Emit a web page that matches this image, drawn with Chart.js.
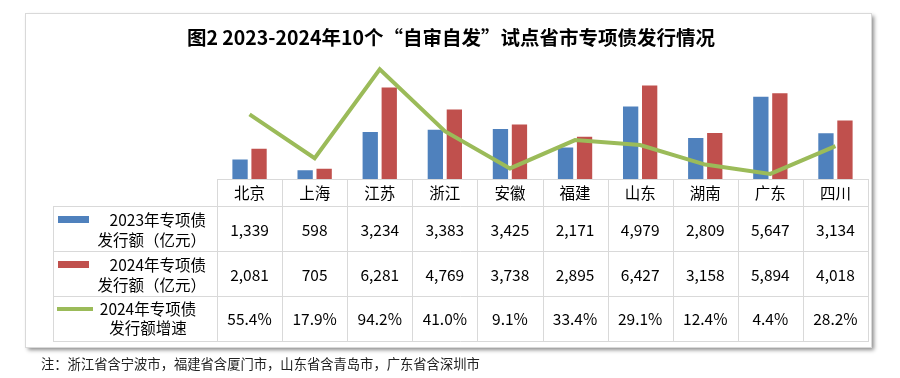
<!DOCTYPE html>
<html>
<head>
<meta charset="utf-8">
<script src="https://cdn.jsdelivr.net/npm/chart.js@4.4.0/dist/chart.umd.min.js"></script>
<style>
  html, body { margin: 0; padding: 0; background: #fff; }
  canvas { display: block; }
</style>
</head>
<body>
<canvas id="chart" width="900" height="378"></canvas>
<script>
const provinces = ["北京", "上海", "江苏", "浙江", "安徽", "福建", "山东", "湖南", "广东", "四川"];
const issue2023 = [1339, 598, 3234, 3383, 3425, 2171, 4979, 2809, 5647, 3134];
const issue2024 = [2081, 705, 6281, 4769, 3738, 2895, 6427, 3158, 5894, 4018];
const growth2024 = [55.4, 17.9, 94.2, 41.0, 9.1, 33.4, 29.1, 12.4, 4.4, 28.2];
const rowLabels = [
  ["2023年专项债", "发行额（亿元）"],
  ["2024年专项债", "发行额（亿元）"],
  ["2024年专项债", "发行额增速"],
];
const titleText = "图2 2023-2024年10个“自审自发”试点省市专项债发行情况";
const noteText = "注：浙江省含宁波市，福建省含厦门市，山东省含青岛市，广东省含深圳市";

const BLUE = "#4F81BD";
const RED = "#C0504D";
const GREEN = "#9BBB59";
const GRID = "#d9d9d9";
const FONT = '"Noto Sans CJK SC", "Noto Sans", sans-serif';

// frame, title, data table and note
const tablePlugin = {
  id: "tablePlugin",
  beforeDraw(chart) {
    const ctx = chart.ctx;
    ctx.save();
    ctx.fillStyle = "#fff";
    ctx.fillRect(0, 0, chart.width, chart.height);
    ctx.shadowColor = "rgba(0,0,0,0.45)";
    ctx.shadowOffsetX = 3;
    ctx.shadowOffsetY = 3;
    ctx.shadowBlur = 4;
    ctx.fillRect(25, 13, 846, 334);
    ctx.restore();
    ctx.save();
    ctx.strokeStyle = GRID;
    ctx.lineWidth = 1;
    ctx.strokeRect(25.5, 13.5, 846, 334);
    ctx.restore();
  },
  afterDraw(chart) {
    const ctx = chart.ctx;
    const area = chart.chartArea;
    const xs = chart.scales.x;
    const colW = (area.right - area.left) / provinces.length;
    const rows = [179, 206, 251, 296, 341];
    const legendLeft = 53;

    ctx.save();
    // title
    ctx.fillStyle = "#000";
    ctx.font = "bold 19.5px " + FONT;
    ctx.textAlign = "center";
    ctx.textBaseline = "middle";
    ctx.fillText(titleText, 451, 38);

    // grid lines
    ctx.strokeStyle = GRID;
    ctx.lineWidth = 1;
    ctx.beginPath();
    ctx.moveTo(area.left, rows[0] + 0.5);
    ctx.lineTo(area.right, rows[0] + 0.5);
    for (let r = 1; r < rows.length; r++) {
      ctx.moveTo(legendLeft, rows[r] + 0.5);
      ctx.lineTo(area.right, rows[r] + 0.5);
    }
    for (let i = 0; i <= provinces.length; i++) {
      const x = Math.round(area.left + i * colW) + 0.5;
      ctx.moveTo(x, rows[0]);
      ctx.lineTo(x, rows[4] + 1);
    }
    ctx.moveTo(legendLeft + 0.5, rows[1]);
    ctx.lineTo(legendLeft + 0.5, rows[4] + 1);
    ctx.stroke();

    // header and values
    ctx.font = "15.5px " + FONT;
    ctx.fillStyle = "#000";
    const rowValues = [
      issue2023.map(v => v.toLocaleString("en-US")),
      issue2024.map(v => v.toLocaleString("en-US")),
      growth2024.map(v => v.toFixed(1) + "%"),
    ];
    provinces.forEach((p, i) => {
      const x = xs.getPixelForValue(i);
      ctx.fillText(p, x, 193);
      ctx.fillText(rowValues[0][i], x, 230);
      ctx.fillText(rowValues[1][i], x, 275);
      ctx.fillText(rowValues[2][i], x, 319);
    });

    // legend keys
    ctx.fillStyle = BLUE;
    ctx.fillRect(58, 216, 31, 7);
    ctx.fillStyle = RED;
    ctx.fillRect(58, 261, 31, 7);
    ctx.strokeStyle = GREEN;
    ctx.lineWidth = 4;
    ctx.beginPath();
    ctx.moveTo(57, 309);
    ctx.lineTo(93, 309);
    ctx.stroke();

    ctx.fillStyle = "#000";
    ctx.textAlign = "right";
    ctx.fillText(rowLabels[0][0], 206, 220);
    ctx.fillText(rowLabels[0][1], 206, 240);
    ctx.fillText(rowLabels[1][0], 206, 265);
    ctx.fillText(rowLabels[1][1], 206, 285);
    ctx.textAlign = "center";
    ctx.fillText(rowLabels[2][0], 148, 309);
    ctx.fillText(rowLabels[2][1], 148, 328);

    // note
    ctx.textAlign = "left";
    ctx.font = "13.3px " + FONT;
    ctx.fillStyle = "#222";
    ctx.fillText(noteText, 41, 364);
    ctx.restore();
  },
};

new Chart(document.getElementById("chart").getContext("2d"), {
  type: "bar",
  data: {
    labels: provinces,
    datasets: [
      {
        type: "line",
        label: "2024年专项债发行额增速",
        data: growth2024,
        yAxisID: "y1",
        borderColor: GREEN,
        borderWidth: 4,
        pointRadius: 0,
        tension: 0,
        order: 0,
      },
      {
        label: "2023年专项债发行额（亿元）",
        data: issue2023,
        backgroundColor: BLUE,
        yAxisID: "y",
        categoryPercentage: 0.584,
        barPercentage: 0.805,
        order: 1,
      },
      {
        label: "2024年专项债发行额（亿元）",
        data: issue2024,
        backgroundColor: RED,
        yAxisID: "y",
        categoryPercentage: 0.584,
        barPercentage: 0.805,
        order: 1,
      },
    ],
  },
  options: {
    responsive: false,
    animation: false,
    layout: {
      padding: { left: 217, right: 32, top: 62.5, bottom: 199 },
    },
    plugins: {
      legend: { display: false },
      title: { display: false },
      tooltip: { enabled: false },
    },
    scales: {
      x: { display: false, offset: true },
      y: { display: false, min: 0, max: 8000 },
      y1: { display: false, min: 0, max: 100, position: "right" },
    },
  },
  plugins: [tablePlugin],
});
</script>
</body>
</html>
